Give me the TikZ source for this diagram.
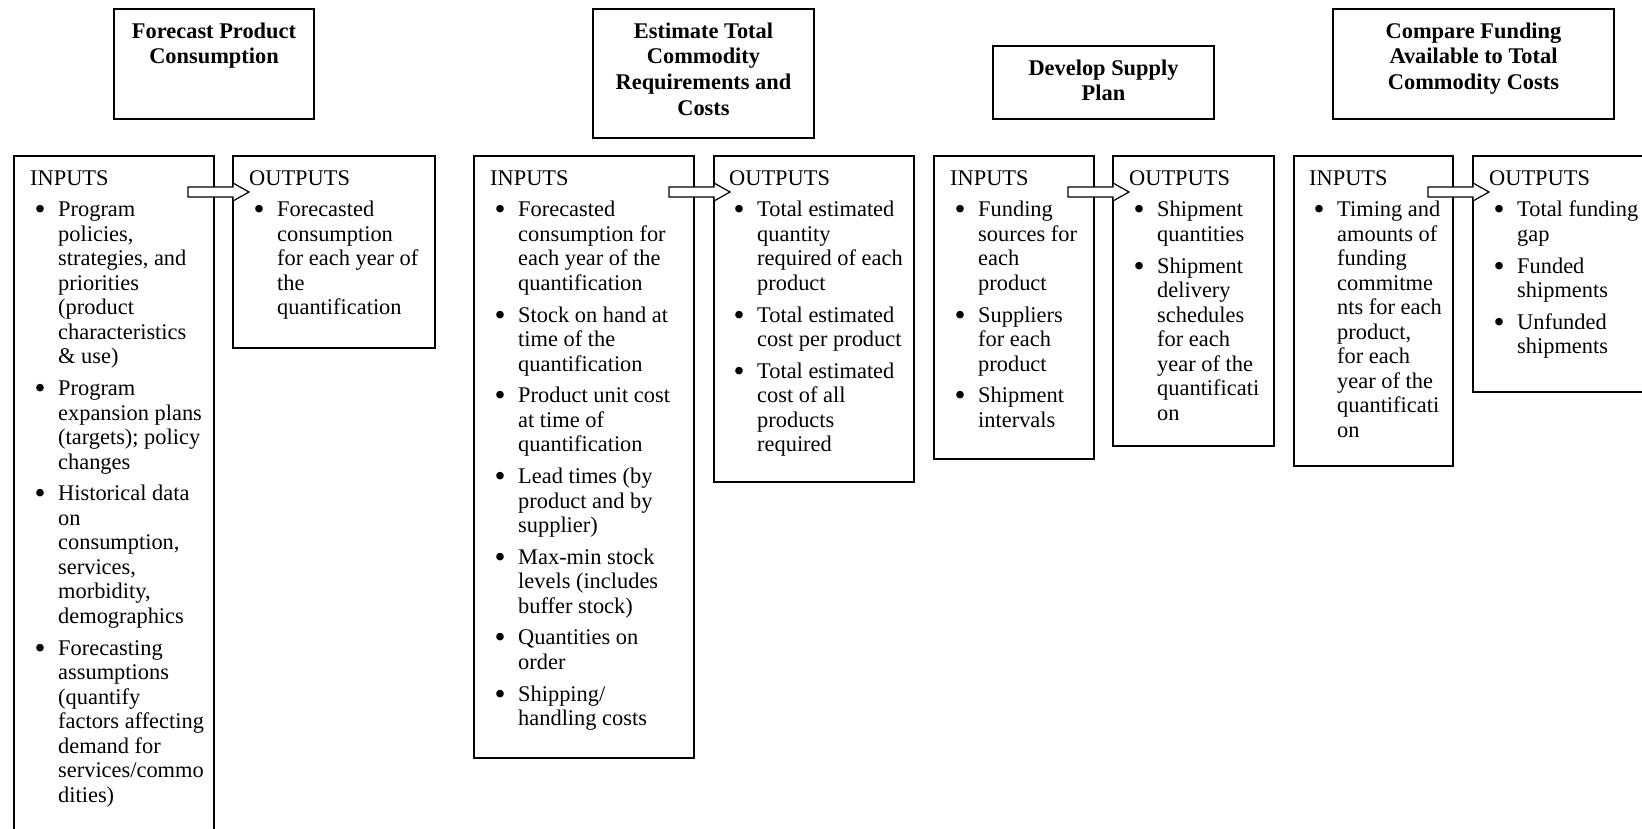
\documentclass[tikz,border=0pt]{standalone}
\usepackage{fontspec}
\setmainfont{Liberation Serif}
\usetikzlibrary{calc}
\tikzset{
  box/.style={draw, line width=1.5pt, inner sep=0pt, outer sep=0pt, anchor=north west},
  body/.style={anchor=north west, inner sep=0pt, align=left, font=\fontsize{22.4}{24.5}\selectfont},
  ttl/.style={anchor=north, inner sep=0pt, align=center, font=\fontsize{22.4}{25.7}\selectfont\bfseries},
  blk/.style={draw, fill=white, line width=1.2pt, line join=miter},
}
\newcommand\bi{\hspace*{4.5pt}\makebox[23.5pt][l]{\raisebox{-3pt}{\scalebox{1.4}{\textbullet}}}}
\newcommand\ci{\hspace*{28pt}}
\newcommand\ig{\\[7.2pt]}
\newcommand\blockarrow[1]{%
  \draw[blk] ($(#1.north west)+(-45,31)$) -- ++(45,0) -- ++(0,-4) -- ++(16,9)
    -- ++(-16,9) -- ++(0,-4) -- ++(-45,0) -- cycle;}
\begin{document}
\begin{tikzpicture}[x=1pt,y=-1pt]
\clip (0,0) rectangle (1642,828);
\fill[white] (0,0) rectangle (1642,828);

% title boxes
\node[box, minimum width=200pt, minimum height=110pt] (t1) at (114,9) {};
\node[box, minimum width=221pt, minimum height=129pt] (t2) at (593,9) {};
\node[box, minimum width=221pt, minimum height=73pt] (t3) at (993,46) {};
\node[box, minimum width=281pt, minimum height=110pt] (t4) at (1333,9) {};

\node[ttl] (t1txt) at (214,20) {\strut Forecast Product\\Consumption};
\node[ttl] (t2txt) at (703.5,20) {\strut Estimate Total\\Commodity\\Requirements and\\Costs};
\node[ttl] (t3txt) at (1103.5,57) {\strut Develop Supply\\Plan};
\node[ttl] (t4txt) at (1473.5,20) {\strut Compare Funding\\Available to Total\\Commodity Costs};

% input / output boxes
\node[box, minimum width=200pt, minimum height=700pt] (i1) at (14,156) {};
\node[box, minimum width=202pt, minimum height=192pt] (o1) at (233,156) {};
\node[box, minimum width=220pt, minimum height=602pt] (i2) at (474,156) {};
\node[box, minimum width=200pt, minimum height=326pt] (o2) at (714,156) {};
\node[box, minimum width=160pt, minimum height=303pt] (i3) at (934,156) {};
\node[box, minimum width=161pt, minimum height=290pt] (o3) at (1113,156) {};
\node[box, minimum width=159pt, minimum height=310pt] (i4) at (1294,156) {};
\node[box, minimum width=200pt, minimum height=236pt] (o4) at (1473,156) {};

% texts
\node[body] (i1txt) at (30,167.85) {\strut INPUTS\ig
\bi Program\\\ci policies,\\\ci strategies, and\\\ci priorities\\\ci (product\\\ci characteristics\\\ci \& use)\ig
\bi Program\\\ci expansion plans\\\ci (targets); policy\\\ci changes\ig
\bi Historical data\\\ci on\\\ci consumption,\\\ci services,\\\ci morbidity,\\\ci demographics\ig
\bi Forecasting\\\ci assumptions\\\ci (quantify\\\ci factors affecting\\\ci demand for\\\ci services/commo\\\ci dities)};

\node[body] (o1txt) at (249,167.85) {\strut OUTPUTS\ig
\bi Forecasted\\\ci consumption\\\ci for each year of\\\ci the\\\ci quantification};

\node[body] (i2txt) at (490,167.85) {\strut INPUTS\ig
\bi Forecasted\\\ci consumption for\\\ci each year of the\\\ci quantification\ig
\bi Stock on hand at\\\ci time of the\\\ci quantification\ig
\bi Product unit cost\\\ci at time of\\\ci quantification\ig
\bi Lead times (by\\\ci product and by\\\ci supplier)\ig
\bi Max-min stock\\\ci levels (includes\\\ci buffer stock)\ig
\bi Quantities on\\\ci order\ig
\bi Shipping/\\\ci handling costs};

\node[body] (o2txt) at (729,167.85) {\strut OUTPUTS\ig
\bi Total estimated\\\ci quantity\\\ci required of each\\\ci product\ig
\bi Total estimated\\\ci cost per product\ig
\bi Total estimated\\\ci cost of all\\\ci products\\\ci required};

\node[body] (i3txt) at (950,167.85) {\strut INPUTS\ig
\bi Funding\\\ci sources for\\\ci each\\\ci product\ig
\bi Suppliers\\\ci for each\\\ci product\ig
\bi Shipment\\\ci intervals};

\node[body] (o3txt) at (1129,167.85) {\strut OUTPUTS\ig
\bi Shipment\\\ci quantities\ig
\bi Shipment\\\ci delivery\\\ci schedules\\\ci for each\\\ci year of the\\\ci quantificati\\\ci on};

\node[body] (i4txt) at (1309,167.85) {\strut INPUTS\ig
\bi Timing and\\\ci amounts of\\\ci funding\\\ci commitme\\\ci nts for each\\\ci product,\\\ci for each\\\ci year of the\\\ci quantificati\\\ci on};

\node[body] (o4txt) at (1489,167.85) {\strut OUTPUTS\ig
\bi Total funding\\\ci gap\ig
\bi Funded\\\ci shipments\ig
\bi Unfunded\\\ci shipments};

% block arrows
\blockarrow{o1}
\blockarrow{o2}
\blockarrow{o3}
\blockarrow{o4}
\end{tikzpicture}
\end{document}
